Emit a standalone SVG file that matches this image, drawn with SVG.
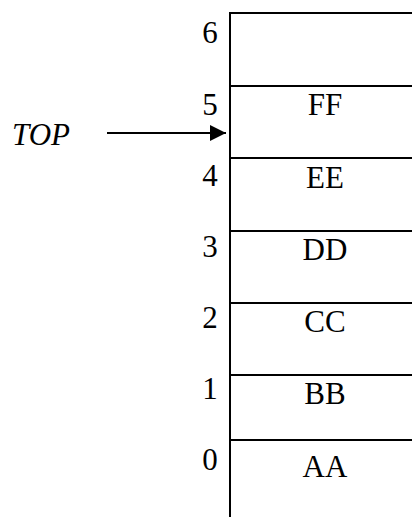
<svg xmlns="http://www.w3.org/2000/svg" width="412" height="517" viewBox="0 0 412 517">
<defs>
<style>
.ln{stroke:#000;stroke-width:2;fill:none}
text{font-family:'Liberation Serif','Times New Roman',serif;font-size:31px;fill:#000}
.idx{text-anchor:middle}
.val{text-anchor:middle}
</style>
<marker id="ah" markerWidth="8" markerHeight="8" refX="8" refY="4" orient="auto" markerUnits="strokeWidth">
<path d="M0,0 L8,4 L0,8 Z" fill="#000"/>
</marker>
</defs>
<rect width="412" height="517" fill="#fff"/>
<g id="stack">
<path class="ln" d="M230,517 V13 H412"/>
<path class="ln" d="M230,86 H412 M230,158 H412 M230,231 H412 M230,303 H412 M230,375 H412 M230,440 H412"/>
</g>
<g id="cell6"><text class="idx" x="210" y="43">6</text></g>
<g id="cell5"><text class="idx" x="210" y="115">5</text><text class="val" x="325" y="115">FF</text></g>
<g id="cell4"><text class="idx" x="210" y="186">4</text><text class="val" x="325" y="188">EE</text></g>
<g id="cell3"><text class="idx" x="210" y="257">3</text><text class="val" x="325" y="260">DD</text></g>
<g id="cell2"><text class="idx" x="210" y="328">2</text><text class="val" x="325" y="332">CC</text></g>
<g id="cell1"><text class="idx" x="210" y="399">1</text><text class="val" x="325" y="404">BB</text></g>
<g id="cell0"><text class="idx" x="210" y="470">0</text><text class="val" x="325" y="477">AA</text></g>
<g id="top"><text x="12" y="145" font-style="italic">TOP</text></g>
<g id="connectors">
<line class="ln" x1="107" y1="133" x2="226" y2="133" marker-end="url(#ah)"/>
</g>
</svg>
